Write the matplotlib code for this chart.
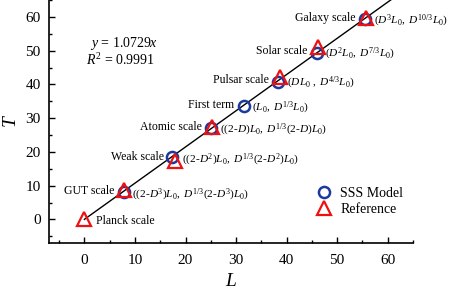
import matplotlib
matplotlib.use("Agg")
import matplotlib.pyplot as plt
import numpy as np
from matplotlib.ticker import MultipleLocator

plt.rcParams['font.family'] = ['Liberation Serif', 'DejaVu Serif']
plt.rcParams['mathtext.fontset'] = 'custom'
plt.rcParams['mathtext.rm'] = 'Liberation Serif'
plt.rcParams['mathtext.it'] = 'Liberation Serif:italic'

# Data
sss_L = [7.8, 17.4, 25.0, 31.6, 38.3, 46.0, 55.6]
sss_T = [8.2, 18.5, 27.1, 33.7, 40.8, 49.2, 59.3]
ref_L = [0.0, 7.9, 17.9, 25.2, 38.7, 46.2, 55.7]
ref_T = [0.0, 8.7, 17.4, 27.4, 42.1, 51.1, 59.6]
slope = 1.0729
r2 = 0.9991

# scale labels: (name, coords text, anchor L, anchor T)
labels = [
    ("Galaxy scale", r"$(D^3L_0,\ D^{10/3}L_0)$", 55.6, 59.5),
    ("Solar scale", r"$(D^2L_0,\ D^{7/3}L_0)$", 46.0, 49.8),
    ("Pulsar scale", r"$(DL_0\ ,\ D^{4/3}L_0)$", 38.5, 41.2),
    ("First term", r"$(L_0,\ D^{1/3}L_0)$", 31.6, 33.7),
    ("Atomic scale", r"$((2\text{-}D)L_0,\ D^{1/3}(2\text{-}D)L_0)$", 25.1, 27.2),
    ("Weak scale", r"$((2\text{-}D^2)L_0,\ D^{1/3}(2\text{-}D^2)L_0)$", 17.6, 18.3),
    ("GUT scale", r"$((2\text{-}D^3)L_0,\ D^{1/3}(2\text{-}D^3)L_0)$", 7.8, 8.2),
]

fig = plt.figure(figsize=(4.53, 2.92), dpi=100)
ax = fig.add_axes([49/453, 1 - 243/292, (413 - 49)/453, 243/292])

# fit line
xl = np.linspace(0, 62, 10)
ax.plot(xl, slope * xl, color='black', lw=1.0, zorder=1)

ax.plot(sss_L, sss_T, 'o', ms=8, mfc='none', mec='#1a3a9e', mew=1.8,
        label='SSS Model', zorder=3)
ax.plot(ref_L, ref_T, '^', ms=9.5, mfc='none', mec='#ee1111', mew=1.6,
        label='Reference', zorder=4)

for name, coord, lx, ly in labels:
    ax.annotate(name, (lx, ly), xytext=(-7, 0.5), textcoords='offset points',
                ha='right', va='center', fontsize=8.5)
    ax.annotate(coord, (lx, ly), xytext=(6, -2), textcoords='offset points',
                ha='left', va='center', fontsize=8.2)
ax.annotate("Planck scale", (0, 0), xytext=(8, -1.5), textcoords='offset points',
            ha='left', va='center', fontsize=8.5)

ax.text(1.2, 52.2, r"$y$ = %.4f$x$" % slope, fontsize=10, va='center')
ax.text(0.4, 47.2, r"$R^2$ = %.4f" % r2, fontsize=10, va='center')

ax.set_xlim(-7, 65)
ax.set_ylim(-7, 65)
ax.xaxis.set_major_locator(MultipleLocator(10))
ax.xaxis.set_minor_locator(MultipleLocator(5))
ax.yaxis.set_major_locator(MultipleLocator(10))
ax.yaxis.set_minor_locator(MultipleLocator(5))
ax.tick_params(which='both', direction='in', width=1.0, labelsize=11)
ax.tick_params(which='major', length=4, pad=6)
ax.tick_params(axis='x', which='major', pad=8)
ax.tick_params(which='minor', length=2)
ax.spines['top'].set_visible(False)
ax.spines['right'].set_visible(False)
ax.spines['left'].set_linewidth(1.2)
ax.spines['bottom'].set_linewidth(1.2)
ax.set_xlabel(r"$L$", fontsize=14, labelpad=4)
ax.set_ylabel(r"$T$", fontsize=14, labelpad=4)

ax.legend(loc='center left', bbox_to_anchor=(0.697, 0.172), frameon=False,
          fontsize=10, handletextpad=0.6, labelspacing=0.2, handlelength=1.2)

fig.savefig("out.png", dpi=100)
